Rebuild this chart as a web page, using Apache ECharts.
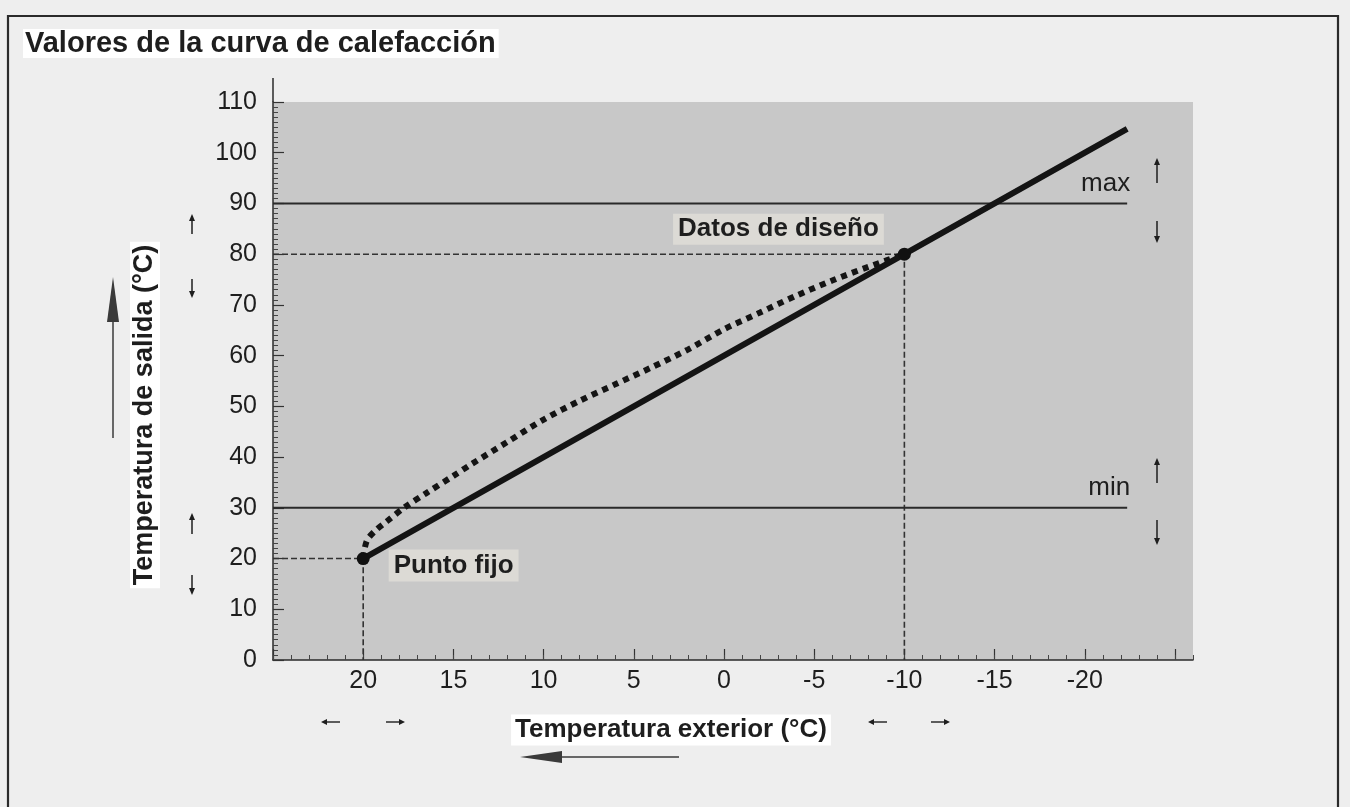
<!DOCTYPE html>
<html>
<head>
<meta charset="utf-8">
<script src="https://cdn.jsdelivr.net/npm/echarts@6/dist/echarts.min.js"></script>
<style>
  html, body { margin: 0; padding: 0; background: #eeeeee; }
  #chart { width: 1350px; height: 807px; }
</style>
</head>
<body>
<div id="chart"></div>
<script>
// ---- data ----
const xTickLabels = [20, 15, 10, 5, 0, -5, -10, -15, -20];
const xMajorTicks = [25, 20, 15, 10, 5, 0, -5, -10, -15, -20, -25];
const fixedPoint = [20, 20];
const designPoint = [-10, 80];
const heatingLine = [[20, 20], [-10, 80], [-22.35, 104.7]];
const curveDotted = [[20, 20], [19.8, 23.5], [19.3, 25.6], [18.7, 27.3], [17.7, 30.1], [16.5, 32.9],
  [15, 36.3], [14, 38.6], [12, 43.0], [10, 47.4], [8, 51.1], [6, 54.4], [4, 57.7], [2, 61.2],
  [0, 65.2], [-2, 68.5], [-4, 71.8], [-6, 74.8], [-8, 77.5], [-10, 80]];
const maxLine = [[25, 90], [-22.35, 90]];
const minLine = [[25, 30], [-22.35, 30]];
const guide80 = [[25, 80], [-10, 80], [-10, 0]];
const guide20 = [[25, 20], [20, 20], [20, 0]];

const FONT = '"Liberation Sans", Arial, Helvetica, sans-serif';
const INK = '#1e1e1e';

function arrow(x1, y1, x2, y2, headLen, headW, lw, color) {
  // (x1,y1) tail, (x2,y2) tip
  const dx = x2 - x1, dy = y2 - y1, L = Math.hypot(dx, dy);
  const ux = dx / L, uy = dy / L, px = -uy, py = ux;
  const bx = x2 - ux * headLen, by = y2 - uy * headLen;
  return {
    type: 'group', silent: true,
    children: [
      { type: 'line', shape: { x1: x1, y1: y1, x2: bx + ux * 1, y2: by + uy * 1 },
        style: { stroke: color, lineWidth: lw } },
      { type: 'polygon', shape: { points: [[x2, y2], [bx + px * headW / 2, by + py * headW / 2], [bx - px * headW / 2, by - py * headW / 2]] },
        style: { fill: color } }
    ]
  };
}

const chart = echarts.init(document.getElementById('chart'), null, { renderer: 'canvas' });

const smallArrows = [
  arrow(192, 234, 192, 214, 7, 6, 1.5, INK),
  arrow(192, 279, 192, 298, 7, 6, 1.5, INK),
  arrow(192, 534, 192, 513, 7, 6, 1.5, INK),
  arrow(192, 575, 192, 595, 7, 6, 1.5, INK),
  arrow(1157, 183, 1157, 158, 7, 6, 1.5, INK),
  arrow(1157, 221, 1157, 243, 7, 6, 1.5, INK),
  arrow(1157, 483, 1157, 458, 7, 6, 1.5, INK),
  arrow(1157, 520, 1157, 545, 7, 6, 1.5, INK),
  arrow(340, 722, 321, 722, 6, 6, 1.4, INK),
  arrow(386, 722, 405, 722, 6, 6, 1.4, INK),
  arrow(887, 722, 868, 722, 6, 6, 1.4, INK),
  arrow(931, 722, 950, 722, 6, 6, 1.4, INK)
];

const option = {
  backgroundColor: '#eeeeee',
  animation: false,
  title: {
    text: 'Valores de la curva de calefacción',
    left: 23, top: 29, padding: [0, 3, 0, 2],
    backgroundColor: '#ffffff',
    textStyle: { fontFamily: FONT, fontSize: 29, fontWeight: 'bold', color: INK }
  },
  grid: {
    left: 273, right: 157, top: 102, bottom: 147,
    show: true, backgroundColor: '#c8c8c8', borderWidth: 0
  },
  xAxis: [{
    type: 'value', inverse: true, min: -26, max: 25,
    axisLine: { show: true, onZero: false, lineStyle: { color: '#2a2a2a', width: 1.5 } },
    axisTick: { show: true, inside: true, length: 11, customValues: xMajorTicks, lineStyle: { color: '#333', width: 1.2 } },
    axisLabel: { customValues: xTickLabels, margin: 9, fontFamily: FONT, fontSize: 25, color: INK },
    splitLine: { show: false }
  }, {
    type: 'value', inverse: true, min: -26, max: 25, interval: 1, gridIndex: 0, position: 'bottom',
    axisLine: { show: false, onZero: false },
    axisTick: { show: true, inside: true, length: 5, lineStyle: { color: '#444', width: 1 } },
    axisLabel: { show: false },
    splitLine: { show: false }
  }],
  yAxis: {
    type: 'value', min: 0, max: 110, interval: 10,
    axisLine: { show: true, onZero: false, lineStyle: { color: '#2a2a2a', width: 1.5 } },
    axisTick: { show: true, inside: true, length: 11, lineStyle: { color: '#333', width: 1.2 } },
    minorTick: { show: true, splitNumber: 10, length: 5, lineStyle: { color: '#444', width: 1 } },
    axisLabel: { margin: 16, fontFamily: FONT, fontSize: 25, color: INK },
    splitLine: { show: false }
  },
  graphic: [
    { type: 'rect', silent: true, z: 0, shape: { x: 8, y: 16, width: 1330, height: 820 },
      style: { fill: 'none', stroke: '#2a2a2a', lineWidth: 2.2 } },
    { type: 'line', silent: true, shape: { x1: 273, y1: 102, x2: 273, y2: 78 },
      style: { stroke: '#2a2a2a', lineWidth: 1.5 } },
    { type: 'text', silent: true, x: 145, y: 415, rotation: Math.PI / 2,
      style: { text: 'Temperatura de salida (°C)', font: 'bold 27px ' + FONT, fill: INK,
        align: 'center', verticalAlign: 'middle', backgroundColor: '#ffffff', padding: [2, 3, 1, 3] } },
    { type: 'text', silent: true, x: 671, y: 730,
      style: { text: 'Temperatura exterior (°C)', font: 'bold 26px ' + FONT, fill: INK,
        align: 'center', verticalAlign: 'middle', backgroundColor: '#ffffff', padding: [3, 4, 2, 4] } },
    arrow(113, 438, 113, 277, 45, 12, 1.5, '#3a3a3a'),
    arrow(679, 757, 520, 757, 42, 12, 1.5, '#3a3a3a')
  ].concat(smallArrows),
  series: [
    { type: 'line', name: 'guide80', data: guide80, symbol: 'none', silent: true, z: 2,
      lineStyle: { color: '#333', width: 1.6, type: [6, 3] } },
    { type: 'line', name: 'guide20', data: guide20, symbol: 'none', silent: true, z: 2,
      lineStyle: { color: '#333', width: 1.6, type: [6, 3] } },
    { type: 'line', name: 'max', data: maxLine, symbol: 'none', silent: true, z: 2,
      lineStyle: { color: '#2a2a2a', width: 2 } },
    { type: 'line', name: 'min', data: minLine, symbol: 'none', silent: true, z: 2,
      lineStyle: { color: '#2a2a2a', width: 2 } },
    { type: 'line', name: 'curva', data: curveDotted, symbol: 'none', smooth: 0.3, silent: true, z: 3,
      lineStyle: { color: '#141414', width: 6, type: [6, 5.5], cap: 'butt' } },
    { type: 'line', name: 'recta', data: heatingLine, symbol: 'none', silent: true, z: 4,
      lineStyle: { color: '#141414', width: 6, cap: 'butt' } },
    { type: 'scatter', name: 'limites', silent: true, z: 5, symbolSize: 1,
      itemStyle: { color: 'rgba(0,0,0,0)', opacity: 1 },
      label: { show: true, position: 'top', align: 'right', distance: 6, offset: [3, 0],
        fontFamily: FONT, fontSize: 26, color: INK },
      data: [
        { value: maxLine[1], label: { formatter: 'max' } },
        { value: minLine[1], label: { formatter: 'min' } }
      ] },
    { type: 'scatter', name: 'puntos', silent: true, z: 6, symbolSize: 13,
      itemStyle: { color: '#111', opacity: 1 },
      data: [
        { value: fixedPoint, label: { show: true, formatter: 'Punto fijo', position: 'right', distance: 19, offset: [0, 7],
            fontFamily: FONT, fontSize: 26, fontWeight: 'bold', color: INK,
            backgroundColor: '#dcdad5', padding: [4, 5, 2, 5] } },
        { value: designPoint, label: { show: true, formatter: 'Datos de diseño', position: 'left', distance: 14, offset: [0, -25],
            fontFamily: FONT, fontSize: 26, fontWeight: 'bold', color: INK,
            backgroundColor: '#dcdad5', padding: [3, 5, 2, 5] } }
      ] }
  ]
};
chart.setOption(option);
</script>
</body>
</html>
